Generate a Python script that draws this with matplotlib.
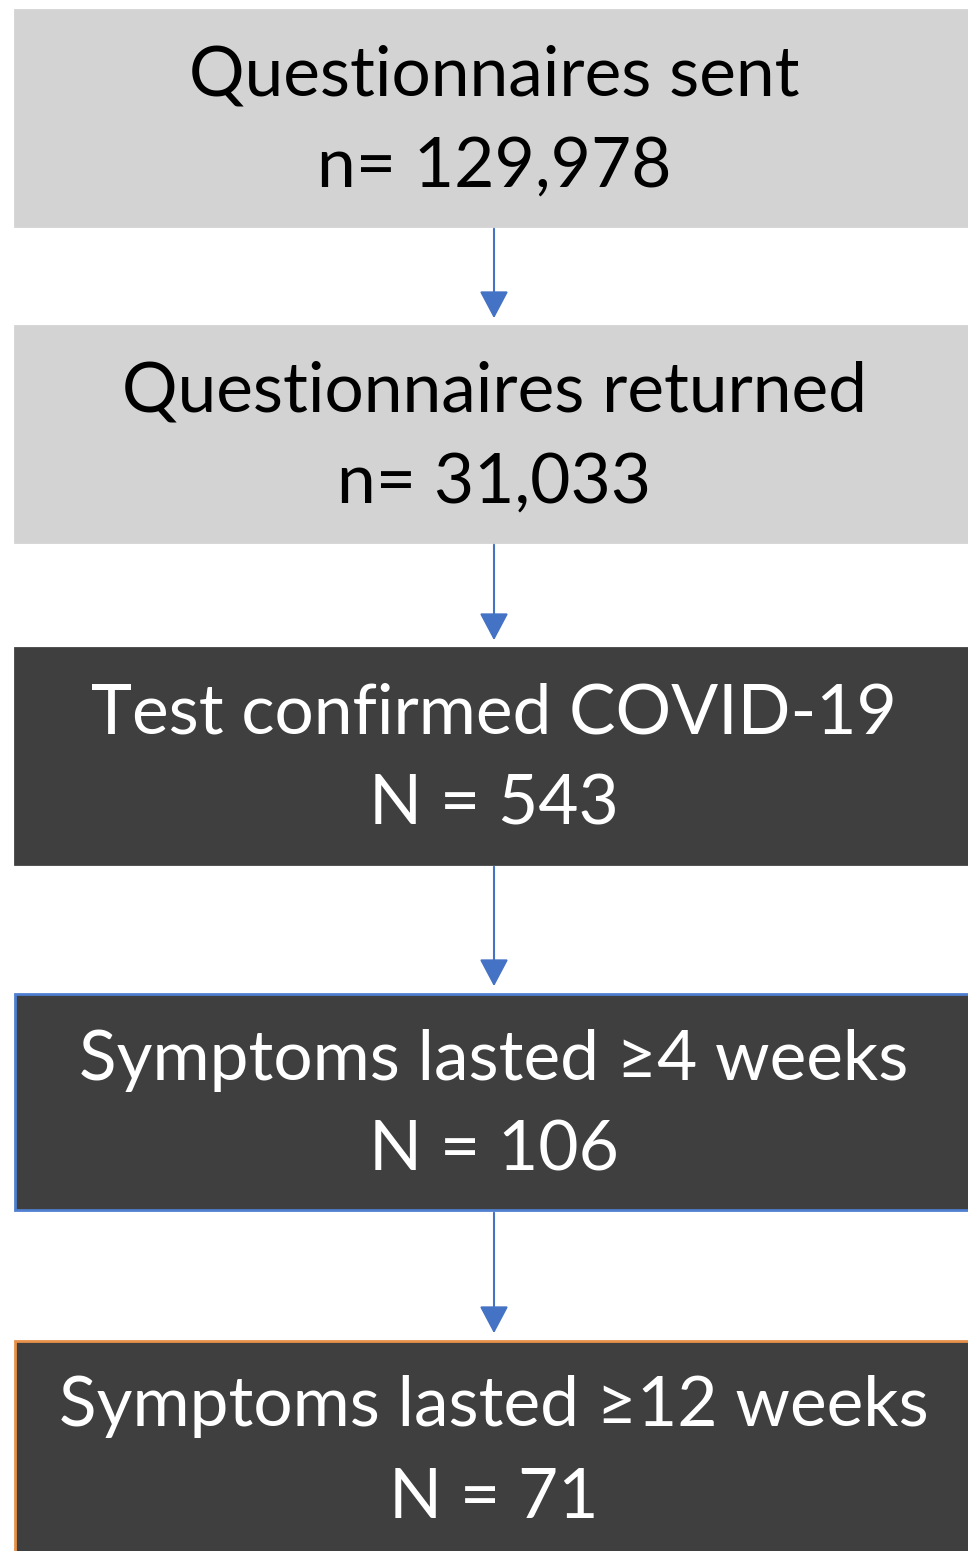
import matplotlib.pyplot as plt
from matplotlib.patches import Rectangle

# flowchart content
titles = ["Questionnaires sent", "Questionnaires returned", "Test confirmed COVID-19",
          "Symptoms lasted \u22654 weeks", "Symptoms lasted \u226512 weeks"]
counts = ["n= 129,978", "n= 31,033", "N = 543", "N = 106", "N = 71"]

# layout in pixel units
box_top = [10, 326, 648, 994, 1341]
box_h = 216
box_left, box_right = 15, 972
fills = ["#d3d3d3", "#d3d3d3", "#3f3f3f", "#3f3f3f", "#3f3f3f"]
edges = ["#d3d3d3", "#d3d3d3", "#3f3f3f", "#4f7fd0", "#e8914a"]
txt_col = ["black", "black", "white", "white", "white"]
cx = 494

fig = plt.figure(figsize=(9.68, 15.51), dpi=100)
ax = fig.add_axes([0, 0, 1, 1])
ax.set_xlim(0, 968)
ax.set_ylim(1551, 0)
ax.axis("off")

for i in range(len(titles)):
    y0 = box_top[i]
    ax.add_patch(Rectangle((box_left, y0), box_right - box_left, box_h,
                           facecolor=fills[i], edgecolor=edges[i], lw=2))
    ax.text(cx, y0 + 66, titles[i], ha="center", va="center", fontsize=50,
            family=["Lato", "DejaVu Sans"], color=txt_col[i])
    ax.text(cx, y0 + 157, counts[i], ha="center", va="center", fontsize=50,
            family=["Lato", "DejaVu Sans"], color=txt_col[i])
    if i < len(titles) - 1:
        ax.annotate("", xy=(cx, box_top[i + 1] - 5), xytext=(cx, y0 + box_h),
                    arrowprops=dict(arrowstyle="-|>,head_length=1.7,head_width=0.9",
                                    color="#4472c4", lw=1.5))

fig.savefig("out.png", dpi=100)
